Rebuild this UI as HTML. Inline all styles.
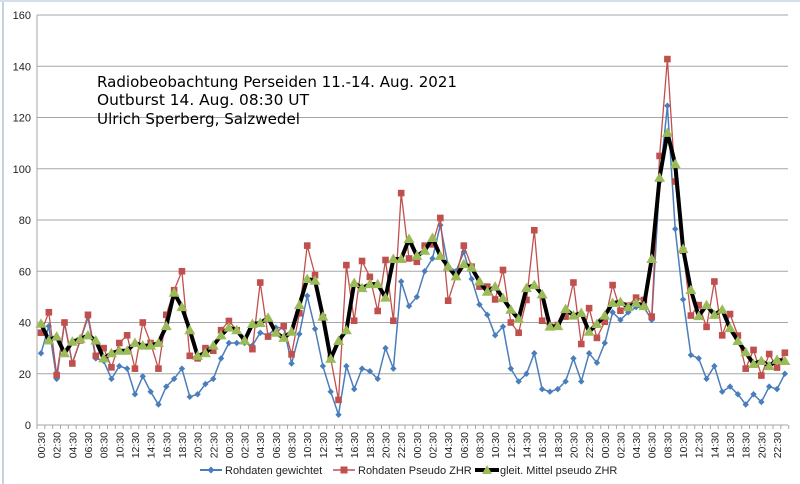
<!DOCTYPE html>
<html><head><meta charset="utf-8"><style>
html,body{margin:0;padding:0;background:#fff;}
svg{display:block;}
</style></head><body>
<svg id="c" width="800" height="484" xmlns="http://www.w3.org/2000/svg" font-family="Liberation Sans, DejaVu Sans, sans-serif">
<rect x="0" y="0" width="800" height="484" fill="#fff"/>
<rect x="2" y="0" width="2" height="484" fill="#c5d3e0"/>
<rect x="0" y="0" width="800" height="2" fill="#d6dfe8"/>
<g id="grid"></g>
<g id="series"></g>
<g font-family="DejaVu Sans, sans-serif" font-size="15" fill="#000">
<text x="97" y="87" textLength="360" lengthAdjust="spacingAndGlyphs">Radiobeobachtung Perseiden 11.-14. Aug. 2021</text>
<text x="97" y="105" textLength="212" lengthAdjust="spacingAndGlyphs">Outburst 14. Aug. 08:30 UT</text>
<text x="97" y="124" textLength="203" lengthAdjust="spacingAndGlyphs">Ulrich Sperberg, Salzwedel</text>
</g>
<g font-size="11" fill="#222">
<line x1="200" y1="470" x2="222" y2="470" stroke="#4a7ebb" stroke-width="2"/>
<path d="M211 466.5 L214.5 470 L211 473.5 L207.5 470Z" fill="#4a7ebb"/>
<text x="225" y="474">Rohdaten gewichtet</text>
<line x1="333" y1="470" x2="355" y2="470" stroke="#c0504d" stroke-width="1.5"/>
<rect x="340.5" y="466.5" width="7" height="7" fill="#c0504d"/>
<text x="358" y="474">Rohdaten Pseudo ZHR</text>
<line x1="475" y1="470" x2="499" y2="470" stroke="#000" stroke-width="4"/>
<path d="M487 465 L492 474 L482 474Z" fill="#9bbb59"/>
<text x="500" y="474">gleit. Mittel pseudo ZHR</text>
</g>
</svg>
<script>
var blue=[28,38.6,18,40,24,33,42,26,25,18,23,22,12,19,13,8,15,18,22,11,12,16,18,26,
32,32,32,31,36,35,38,38,24,35.5,50.4,37.5,23,13,4,23,14,22,21,18,30,22,56,46.4,50,60,
65,78,62,60,67.5,57,47,43,35,38.4,22,17,20,28,14,13,14,17,26,17,28,24.3,32,44,
41,44,46,46,41,95,124.6,76.5,49,27.3,26,18,23,13,15,12,8,12,9,15,14,20];
var red=[36,44,19.5,40,24,33,43,27,30,22.5,32,35,22,40,32,22,43,52.6,60,27,26,30,29,37,
40.6,37,33,29.6,55.6,34.5,36,38.6,27.6,43.6,70,58.5,42,26,9.8,62.4,40.7,64,57.8,44.5,64.4,40.7,90.5,65,63.7,70,
70.5,80.8,48.5,58,70,61.8,54,54,49,60.5,40,36,48.8,76,40.7,38.4,39,42.3,55.6,31.6,45.6,34,40.3,54.6,
44.6,46.6,49.7,48.8,42.3,105,142.8,95,68,42.7,46.8,38.3,56,35,43.3,34.9,22,29.3,19.3,27.7,22.4,28.2];
var grn=[39.5,33,34.5,28,32.5,33.5,35,33,26,28,29,29,32,31,31,32,38.6,51.6,46,37,27,28,31,35,
38,37,33,39.4,39.8,41.8,36,34,36.4,46.8,57,56.3,42.3,25.8,32.8,37,55.4,53.4,55,55,49.7,64.8,64.8,72.6,66,68,
73,66,61.8,58,62.8,61.4,56,52,54,49.5,45,41.4,53.4,54.6,51,38.4,38.6,45.2,42.7,43.7,36.4,39.4,42.7,47.6,
48,46,47.6,46.4,64.8,96.5,114,101.8,68.7,52.7,42.5,46.8,43,45,37.8,32.8,28.4,23.8,25,23,25.4,25];
var NS="http://www.w3.org/2000/svg";
function X(i){return 41+i*7.83;}
function Y(v){return 425-v*2.5625;}
function el(p,t,a,txt){var e=document.createElementNS(NS,t);for(var k in a)e.setAttribute(k,a[k]);if(txt!=null)e.textContent=txt;p.appendChild(e);return e;}
var g=document.getElementById('grid');
for(var v=0;v<=160;v+=20){
  var y=Y(v);
  if(v>0)el(g,'line',{x1:37,y1:y,x2:788,y2:y,stroke:'#a6a6a6','stroke-width':1});
  el(g,'text',{x:31,y:y+4,'text-anchor':'end','font-size':11,fill:'#222'},String(v));
}
el(g,'line',{x1:37,y1:15,x2:37,y2:425,stroke:'#a6a6a6','stroke-width':1});
el(g,'line',{x1:37,y1:425,x2:788,y2:425,stroke:'#a6a6a6','stroke-width':1});
for(var i=0;i<=96;i++){var tx=37+i*7.83;el(g,'line',{x1:tx,y1:425,x2:tx,y2:429,stroke:'#a6a6a6','stroke-width':1});}
for(var i=0;i<96;i+=2){
  var h=(i%24);var lab=(h<10?'0':'')+h+':30';
  var x=X(i)+4;
  el(g,'text',{x:0,y:0,transform:'translate('+x+',432) rotate(-90)','text-anchor':'end','font-size':10.5,fill:'#222'},lab);
}
var s=document.getElementById('series');
function pts(a){return a.map(function(v,i){return X(i).toFixed(1)+','+Y(v).toFixed(1);}).join(' ');}
el(s,'polyline',{points:pts(blue),fill:'none',stroke:'#4a7ebb','stroke-width':1.5});
blue.forEach(function(v,i){var x=X(i),y=Y(v);el(s,'path',{d:'M'+x+' '+(y-3.2)+'L'+(x+3.2)+' '+y+'L'+x+' '+(y+3.2)+'L'+(x-3.2)+' '+y+'Z',fill:'#4a7ebb'});});
el(s,'polyline',{points:pts(red),fill:'none',stroke:'#c0504d','stroke-width':1.3});
red.forEach(function(v,i){el(s,'rect',{x:X(i)-3.3,y:Y(v)-3.3,width:6.6,height:6.6,fill:'#c0504d'});});
el(s,'polyline',{points:pts(grn),fill:'none',stroke:'#000','stroke-width':4,'stroke-linejoin':'round'});
grn.forEach(function(v,i){var x=X(i),y=Y(v);el(s,'path',{d:'M'+x+' '+(y-5.5)+'L'+(x+5.5)+' '+(y+4)+'L'+(x-5.5)+' '+(y+4)+'Z',fill:'#9bbb59'});});
</script>
</body></html>
